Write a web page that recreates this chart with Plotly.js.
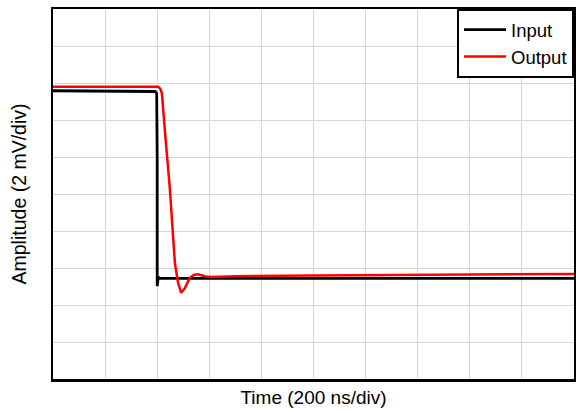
<!DOCTYPE html>
<html>
<head>
<meta charset="utf-8">
<script src="https://cdn.plot.ly/plotly-3.0.1.min.js"></script>
<style>html,body{margin:0;padding:0;background:#fff;}#chart{width:576px;height:413px;}</style>
</head>
<body>
<div id="chart"></div>
<script>
// time in divisions (200 ns/div), amplitude in divisions (2 mV/div)
const inputTime = [0, 1.0, 1.9, 1.96, 1.99, 2.0, 2.0, 2.01, 2.02, 2.04, 2.06, 3.0, 5.0, 7.5, 10];
const inputAmp  = [7.79, 7.78, 7.77, 7.77, 7.72, 6.0, 2.51, 2.6, 2.76, 2.72, 2.72, 2.72, 2.71, 2.72, 2.72];

const outputTime = [0, 1.0, 2.02, 2.06, 2.09, 2.16, 2.24, 2.34, 2.40, 2.46, 2.53, 2.62, 2.70, 2.78, 2.86, 2.93, 3.04, 3.5, 5.0, 7.0, 10];
const outputAmp  = [7.9, 7.9, 7.9, 7.84, 7.72, 6.5, 5.19, 3.13, 2.6, 2.33, 2.45, 2.72, 2.81, 2.83, 2.8, 2.77, 2.76, 2.78, 2.8, 2.82, 2.84];

const traces = [
  {x: inputTime, y: inputAmp, name: 'Input', mode: 'lines', line: {color: '#000000', width: 2.8}},
  {x: outputTime, y: outputAmp, name: 'Output', mode: 'lines', line: {color: '#ff0000', width: 2.5}}
];
const layout = {
  width: 576, height: 413,
  margin: {l: 53, r: 2, t: 9, b: 34},
  paper_bgcolor: '#ffffff', plot_bgcolor: '#ffffff',
  font: {family: 'Arial, Liberation Sans, sans-serif', color: '#000000', size: 19},
  showlegend: true,
  legend: {
    x: 1, y: 1, xanchor: 'right', yanchor: 'top',
    bgcolor: '#ffffff', bordercolor: '#000000', borderwidth: 2,
    font: {size: 18.5, family: 'Arial, Liberation Sans, sans-serif'},
    itemwidth: 42,
    tracegroupgap: 0
  },
  xaxis: {
    range: [0, 10], dtick: 1, showticklabels: false, ticks: '',
    showgrid: true, gridcolor: '#d6d6d6', gridwidth: 1,
    showline: true, linecolor: '#000000', linewidth: 2.5, mirror: true,
    zeroline: false,
    title: {text: 'Time (200 ns/div)', font: {size: 19}, standoff: 10}
  },
  yaxis: {
    range: [0, 10], dtick: 1, showticklabels: false, ticks: '',
    showgrid: true, gridcolor: '#d6d6d6', gridwidth: 1,
    showline: true, linecolor: '#000000', linewidth: 2.5, mirror: true,
    zeroline: false,
    title: {text: 'Amplitude (2 mV/div)', font: {size: 19.5}, standoff: 19}
  }
};
Plotly.newPlot('chart', traces, layout, {staticPlot: true, displayModeBar: false});
</script>
</body>
</html>
